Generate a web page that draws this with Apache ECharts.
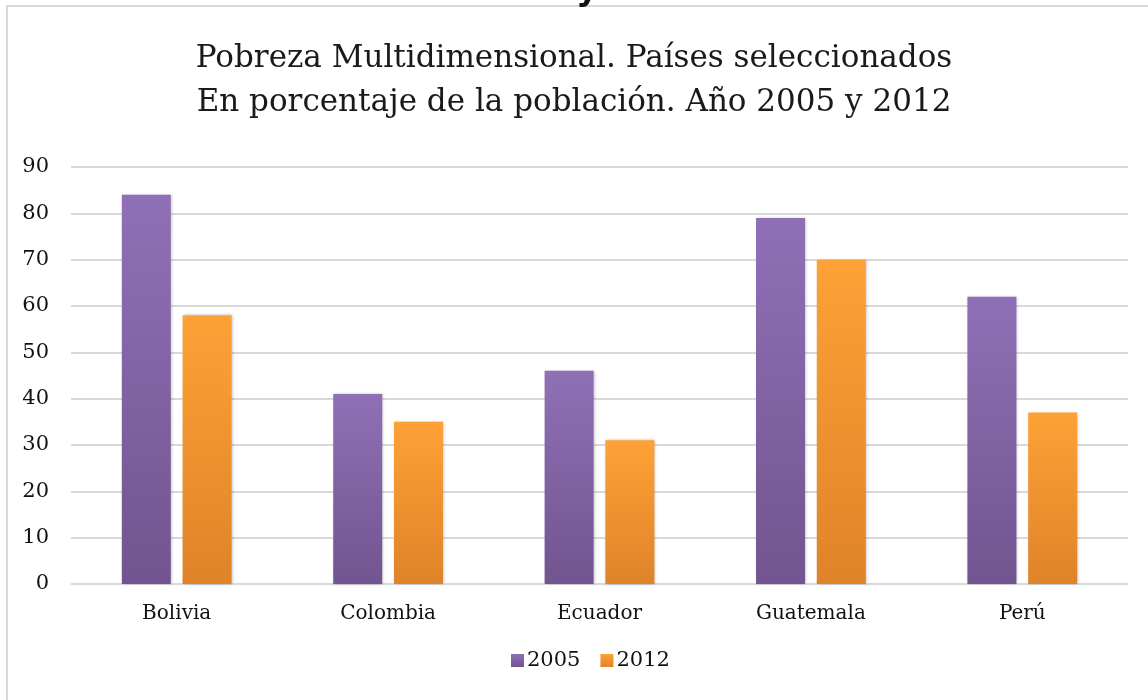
<!DOCTYPE html>
<html>
<head>
<meta charset="utf-8">
<script src="https://cdn.jsdelivr.net/npm/echarts@6/dist/echarts.min.js"></script>
<style>
  html, body { margin: 0; padding: 0; background: #fff; }
  #chart { width: 1148px; height: 700px; }
</style>
</head>
<body>
<div id="chart"></div>
<script>
// datos
var paises = ['Bolivia', 'Colombia', 'Ecuador', 'Guatemala', 'Perú']
var serie2005 = [84, 41, 46, 79, 62]
var serie2012 = [58, 35, 31, 70, 37]
var ticksY = [0, 10, 20, 30, 40, 50, 60, 70, 80, 90]

var fuente = '"DejaVu Serif", "Liberation Serif", serif'

function grad(top, bottom) {
  return new echarts.graphic.LinearGradient(0, 0, 0, 1, [
    { offset: 0, color: top },
    { offset: 1, color: bottom }
  ])
}

var chart = echarts.init(document.getElementById('chart'))
chart.setOption({
  animation: false,
  backgroundColor: '#fff',
  title: {
    text: 'Pobreza Multidimensional. Países seleccionados\nEn porcentaje de la población. Año 2005 y 2012',
    left: 'center',
    top: 32,
    textStyle: {
      fontFamily: fuente,
      fontWeight: 'normal',
      fontSize: 31,
      lineHeight: 44,
      color: '#1a1a1a'
    }
  },
  graphic: [
    {
      type: 'rect',
      shape: { x: 7, y: 6, width: 1150, height: 710 },
      style: { fill: 'none', stroke: '#d9d9d9', lineWidth: 2 },
      silent: true
    },
    {
      type: 'text',
      left: 576,
      top: -26,
      style: { text: 'y', font: 'bold 34px "DejaVu Sans", sans-serif', fill: '#111' },
      silent: true
    }
  ],
  legend: {
    bottom: 24,
    left: 506,
    itemWidth: 13,
    itemHeight: 13,
    itemGap: 20,
    icon: 'rect',
    textStyle: { fontFamily: fuente, fontSize: 21, color: '#111', padding: [0, 0, 0, -2] },
    data: ['2005', '2012']
  },
  grid: {
    left: 71,
    right: 20,
    top: 167,
    bottom: 116,
    containLabel: false
  },
  xAxis: {
    type: 'category',
    data: paises,
    axisTick: { show: false },
    axisLine: { lineStyle: { color: '#d9d9d9', width: 1 } },
    axisLabel: { fontFamily: fuente, fontSize: 20, color: '#111', margin: 20 }
  },
  yAxis: {
    type: 'value',
    min: ticksY[0],
    max: ticksY[ticksY.length - 1],
    interval: 10,
    axisLine: { show: false },
    axisTick: { show: false },
    splitLine: { lineStyle: { color: '#d9d9d9', width: 2 } },
    axisLabel: { fontFamily: fuente, fontSize: 21, color: '#111', margin: 22 }
  },
  series: [
    {
      name: '2005',
      type: 'bar',
      data: serie2005,
      barWidth: 49,
      barGap: '24%',
      itemStyle: {
        color: grad('#8f70b6', '#725490'),
        shadowColor: 'rgba(0,0,0,0.25)',
        shadowBlur: 3,
        shadowOffsetX: 1
      }
    },
    {
      name: '2012',
      type: 'bar',
      data: serie2012,
      barWidth: 49,
      barGap: '24%',
      itemStyle: {
        color: grad('#fea136', '#df8329'),
        shadowColor: 'rgba(0,0,0,0.25)',
        shadowBlur: 3,
        shadowOffsetX: 1
      }
    }
  ]
})
</script>
</body>
</html>
